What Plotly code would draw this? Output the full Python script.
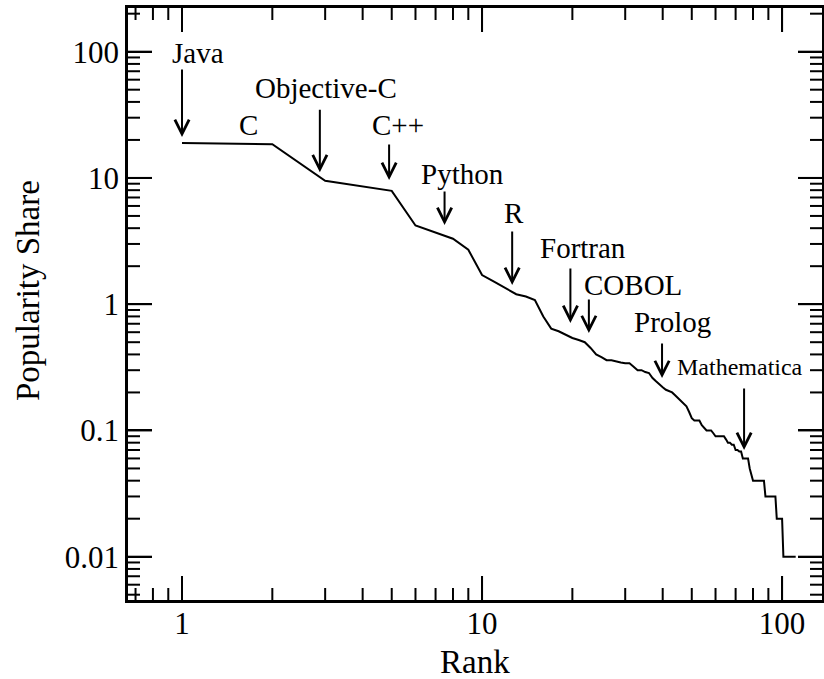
import math
import plotly.graph_objects as go

# ---- data ----
share = [18.9, 18.5, 9.5, 8.6, 7.9, 4.2, 3.7, 3.3, 2.7, 1.7,
         1.5, 1.33, 1.2, 1.15, 1.08, 0.80, 0.64, 0.61, 0.57, 0.54,
         0.52, 0.50, 0.45, 0.40, 0.38, 0.36, 0.36, 0.35, 0.345, 0.34,
         0.34, 0.32, 0.30, 0.30, 0.29, 0.285, 0.26, 0.245, 0.23, 0.22,
         0.21, 0.205, 0.20, 0.19, 0.18, 0.17, 0.16, 0.155, 0.14, 0.125,
         0.12, 0.12, 0.12, 0.11, 0.105, 0.10, 0.10, 0.10, 0.095, 0.09,
         0.09, 0.09, 0.09, 0.09, 0.085, 0.08, 0.08, 0.077, 0.077, 0.07,
         0.07, 0.068, 0.068, 0.06, 0.06, 0.06, 0.06, 0.05, 0.045, 0.04,
         0.04, 0.04, 0.04, 0.04, 0.04, 0.04, 0.04, 0.03, 0.03, 0.03,
         0.03, 0.03, 0.03, 0.03, 0.03, 0.02, 0.02, 0.02, 0.02, 0.02,
         0.01, 0.01, 0.01, 0.01, 0.01, 0.01, 0.01, 0.01, 0.01, 0.01,
         0.01]
rank = list(range(1, len(share) + 1))

# labelled languages: name, label position (rank, share), arrow rank, arrow tip share, arrow length (px)
lang_names = ["Java", "C", "Objective-C", "C++", "Python", "R", "Fortran", "COBOL", "Prolog", "Mathematica"]
label_rank = [1.13, 1.66, 3.02, 5.25, 8.58, 12.8, 21.7, 31.9, 43.0, 72.4]
label_share = [97.0, 26.5, 51.5, 26.2, 10.7, 5.27, 2.79, 1.42, 0.72, 0.318]
arrow_rank = [1.0, None, 2.88, 4.9, 7.5, 12.6, 19.7, 22.7, 39.8, 74.7]
arrow_tip = [21.1, None, 11.1, 9.64, 4.24, 1.42, 0.71, 0.59, 0.26, 0.07]
arrow_len = [69, None, 64, 37, 35, 55, 56, 35, 36, 63]
label_size = [29, 29, 29, 29, 29, 29, 29, 29, 29, 24]

x_tickvals = [1, 10, 100]
x_ticktext = ["1", "10", "100"]
y_tickvals = [0.01, 0.1, 1, 10, 100]
y_ticktext = ["0.01", "0.1", "1", "10", "100"]
x_minor = [m * 10 ** e for e in (-1, 0, 1) for m in range(2, 10) if 0.65 < m * 10 ** e < 137]
y_minor = [m * 10 ** e for e in (-3, -2, -1, 0, 1, 2) for m in range(2, 10) if 0.0045 < m * 10 ** e < 222]

FONT = "Liberation Serif"
XR = [-0.18, 2.133]
YR = [-2.343, 2.346]
W, H = 824, 679
ML, MR, MT, MB = 128, 2, 8, 79
PW, PH = W - ML - MR, H - MT - MB
MAJ, MIN = 24, 12  # tick lengths in px

fig = go.Figure()
fig.add_trace(go.Scatter(x=rank, y=share, mode="lines",
                         line=dict(color="black", width=2), showlegend=False))

# inside tick marks on all four sides, drawn through the log axes
dy_per_px = (YR[1] - YR[0]) / PH
dx_per_px = (XR[1] - XR[0]) / PW
tx, ty = [], []
for vals, ln in ((x_tickvals, MAJ), (x_minor, MIN)):
    for v in vals:
        tx += [v, v, None, v, v, None]
        ty += [10 ** YR[0], 10 ** (YR[0] + ln * dy_per_px), None,
               10 ** YR[1], 10 ** (YR[1] - ln * dy_per_px), None]
for vals, ln in ((y_tickvals, MAJ), (y_minor, MIN)):
    for v in vals:
        tx += [10 ** XR[0], 10 ** (XR[0] + ln * dx_per_px), None,
               10 ** XR[1], 10 ** (XR[1] - ln * dx_per_px), None]
        ty += [v, v, None, v, v, None]
fig.add_trace(go.Scatter(x=tx, y=ty, mode="lines", line=dict(color="black", width=2),
                         hoverinfo="skip", showlegend=False, cliponaxis=False,
                         connectgaps=False))

for i, name in enumerate(lang_names):
    fig.add_annotation(x=math.log10(label_rank[i]), y=math.log10(label_share[i]),
                       xref="x", yref="y", text=name, showarrow=False,
                       font=dict(family=FONT, size=label_size[i], color="black"),
                       xanchor="center", yanchor="middle")
    if arrow_rank[i] is not None:
        fig.add_annotation(x=math.log10(arrow_rank[i]), y=math.log10(arrow_tip[i]),
                           ax=0, ay=-arrow_len[i],
                           xref="x", yref="y",
                           text="", showarrow=True, arrowhead=5,
                           arrowsize=1.4, arrowwidth=2, arrowcolor="black",
                           standoff=0, startstandoff=0)

# axis titles
fig.add_annotation(x=0.5, y=-62 / PH, xref="paper", yref="paper",
                   text="Rank", showarrow=False, xanchor="center", yanchor="middle",
                   font=dict(family=FONT, size=33, color="black"))
fig.add_annotation(x=-(ML - 28) / PW, y=(PH + MT - 291) / PH, xref="paper", yref="paper",
                   text="Popularity Share", showarrow=False, textangle=-90,
                   xanchor="center", yanchor="middle",
                   font=dict(family=FONT, size=33, color="black"))

tickfont = dict(family=FONT, size=31, color="black")
fig.update_layout(
    width=W, height=H,
    margin=dict(l=ML, r=MR, t=MT, b=MB),
    plot_bgcolor="white", paper_bgcolor="white",
    showlegend=False,
    xaxis=dict(type="log", range=XR, showgrid=False, zeroline=False, automargin=False,
               showline=True, linecolor="black", linewidth=2.5, mirror="allticks",
               ticks="inside", ticklen=MAJ, tickwidth=2, tickcolor="black",
               tickmode="array", tickvals=x_tickvals, ticktext=x_ticktext,
               tickfont=tickfont, ticklabelstandoff=-6),
    yaxis=dict(type="log", range=YR, showgrid=False, zeroline=False, automargin=False,
               showline=True, linecolor="black", linewidth=2.5, mirror="allticks",
               ticks="inside", ticklen=MAJ, tickwidth=2, tickcolor="black",
               tickmode="array", tickvals=y_tickvals, ticktext=y_ticktext,
               tickfont=tickfont, ticklabelstandoff=0),
)

fig.write_html("out.html")
